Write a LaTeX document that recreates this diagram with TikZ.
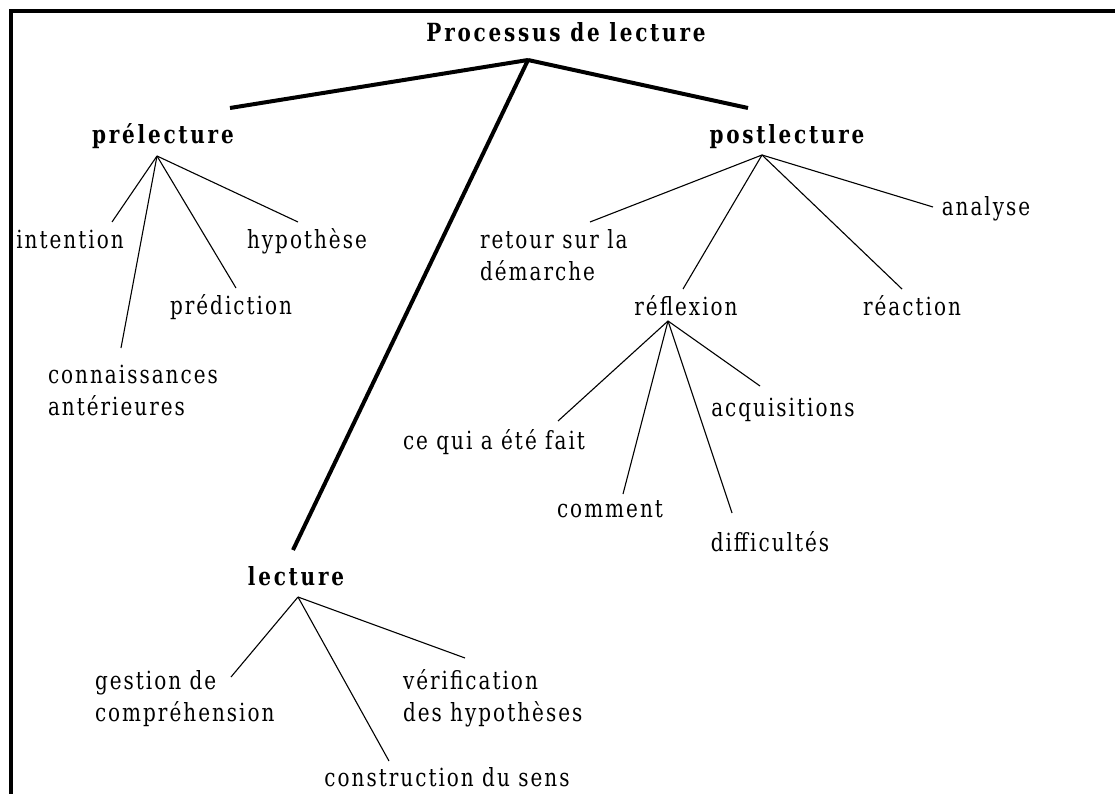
\documentclass[tikz,border=0pt]{standalone}
\usepackage{fontspec}
\setmainfont{DejaVu Serif}[FakeStretch=0.8,LetterSpace=8,BoldFeatures={LetterSpace=11}]
\begin{document}
\begin{tikzpicture}[x=1pt,y=-1pt,
  every node/.style={inner sep=0pt,outer sep=0pt},
  lbl/.style={font=\fontsize{25}{32}\selectfont},
  head/.style={font=\fontsize{25}{32}\selectfont\bfseries},
  trunk/.style={line width=4pt},
  twig/.style={line width=1.1pt},
  frame/.style={line width=3.5pt}]
\useasboundingbox (0,0) rectangle (1115,794);
\draw[frame] (11,794) -- (11,11) -- (1115,11);

% nodes (multi-line nodes are anchored at the baseline of their last line)
\node[head, anchor=base] (root) at (566,42) {Processus de lecture};
\node[head, anchor=base] (pre) at (163,144) {prélecture};
\node[head, anchor=base] (post) at (787,144) {postlecture};
\node[head, anchor=base] (lec) at (296,585) {lecture};
\node[lbl, anchor=base] (int) at (70,248) {intention};
\node[lbl, anchor=base] (hyp) at (307,248) {hypothèse};
\node[lbl, anchor=base] (pred) at (231,314) {prédiction};
\node[lbl, anchor=base west, align=left] (conn) at (48,415) {connaissances\\antérieures};
\node[lbl, anchor=base west, align=left] (ret) at (480,280) {retour sur la\\démarche};
\node[lbl, anchor=base] (refl) at (686,315) {réflexion};
\node[lbl, anchor=base] (reac) at (912,315) {réaction};
\node[lbl, anchor=base] (ana) at (986,216) {analyse};
\node[lbl, anchor=base] (acq) at (783,416) {acquisitions};
\node[lbl, anchor=base] (ce) at (494,449) {ce qui a été fait};
\node[lbl, anchor=base] (com) at (610,517) {comment};
\node[lbl, anchor=base] (dif) at (770,551) {difficultés};
\node[lbl, anchor=base west, align=left] (ges) at (95,721) {gestion de\\compréhension};
\node[lbl, anchor=base west, align=left] (ver) at (403,721) {vérification\\des hypothèses};
\node[lbl, anchor=base] (cons) at (447,786) {construction du sens};

% junctions and connector ends
\coordinate (jroot) at (528,60);
\coordinate (ePre) at (230,108);
\coordinate (ePost) at (748,108);
\coordinate (eLec) at (293,550);
\coordinate (jpre) at (157,156);
\coordinate (eInt) at (112,222);
\coordinate (eConn) at (121,348);
\coordinate (ePred) at (236,288);
\coordinate (eHyp) at (298,222);
\coordinate (jpost) at (762,155);
\coordinate (eRet) at (590,222);
\coordinate (eRefl) at (683,289);
\coordinate (eReac) at (902,289);
\coordinate (eAna) at (933,207);
\coordinate (jrefl) at (668,321);
\coordinate (eCe) at (558,421);
\coordinate (eCom) at (623,494);
\coordinate (eDif) at (732,513);
\coordinate (eAcq) at (760,386);
\coordinate (jlec) at (298,597);
\coordinate (eGes) at (231,677);
\coordinate (eCons) at (389,761);
\coordinate (eVer) at (465,658);

\draw[trunk] (jroot) -- (ePre);
\draw[trunk] (jroot) -- (ePost);
\draw[trunk] (jroot) -- (eLec);
\foreach \e in {eInt,eConn,ePred,eHyp} \draw[twig] (jpre) -- (\e);
\foreach \e in {eRet,eRefl,eReac,eAna} \draw[twig] (jpost) -- (\e);
\foreach \e in {eCe,eCom,eDif,eAcq} \draw[twig] (jrefl) -- (\e);
\foreach \e in {eGes,eCons,eVer} \draw[twig] (jlec) -- (\e);
\end{tikzpicture}
\end{document}
